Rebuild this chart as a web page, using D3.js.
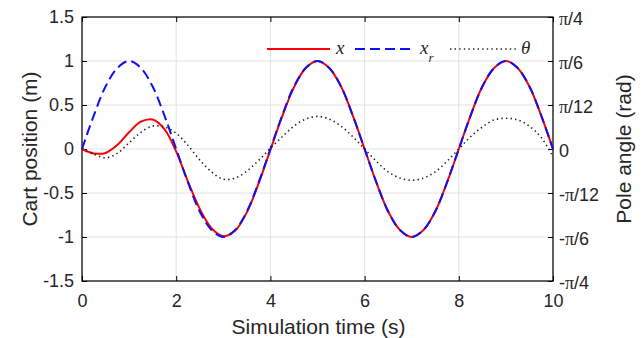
<!DOCTYPE html>
<html>
<head>
<meta charset="utf-8">
<script src="https://cdn.jsdelivr.net/npm/d3@7"></script>
<style>
  body { margin: 0; background: #fff; }
  svg { display: block; }
  text { font-family: Arial, "Liberation Sans", sans-serif; fill: #262626; }
</style>
</head>
<body>
<svg id="chart" width="644" height="338"></svg>
<script>
// sample times (s)
const time = [0, 0.25, 0.5, 0.75, 1, 1.25, 1.5, 1.75, 2, 2.25, 2.5, 2.75, 3, 3.25, 3.5, 3.75, 4,
  4.25, 4.5, 4.75, 5, 5.25, 5.5, 5.75, 6, 6.25, 6.5, 6.75, 7, 7.25, 7.5, 7.75, 8,
  8.25, 8.5, 8.75, 9, 9.25, 9.5, 9.75, 10];

// cart position x (m)
const cartX = [0, -0.05, -0.045, 0.045, 0.19, 0.31, 0.335, 0.225, -0.03, -0.37, -0.68, -0.9, -0.99, -0.93, -0.72, -0.39, -0.01,
  0.37, 0.7, 0.92, 1, 0.92, 0.71, 0.38, 0, -0.38, -0.71, -0.92, -1, -0.92, -0.71, -0.38, 0,
  0.38, 0.71, 0.92, 1, 0.92, 0.71, 0.38, 0];

// reference position x_r (m)
const refX = [0, 0.38, 0.71, 0.92, 1, 0.92, 0.71, 0.38, 0, -0.38, -0.71, -0.92, -1, -0.92, -0.71, -0.38, 0,
  0.38, 0.71, 0.92, 1, 0.92, 0.71, 0.38, 0, -0.38, -0.71, -0.92, -1, -0.92, -0.71, -0.38, 0,
  0.38, 0.71, 0.92, 1, 0.92, 0.71, 0.38, 0];

// pole angle theta (rad)
const theta = [0, -0.031, -0.052, -0.026, 0.037, 0.099, 0.136, 0.131, 0.094, 0.021, -0.065, -0.136, -0.18, -0.173, -0.131, -0.068, 0.005,
  0.073, 0.136, 0.178, 0.194, 0.178, 0.136, 0.073, 0, -0.073, -0.136, -0.173, -0.186, -0.173, -0.136, -0.073, 0,
  0.073, 0.131, 0.173, 0.183, 0.173, 0.136, 0.068, -0.045];

const xTicks = [0, 2, 4, 6, 8, 10];
const yTicks = [-1.5, -1, -0.5, 0, 0.5, 1, 1.5];
const angleTicks = [-3, -2, -1, 0, 1, 2, 3];           // multiples of pi/12
const angleLabels = ["-π/4", "-π/6", "-π/12", "0", "π/12", "π/6", "π/4"];

const mLeft = 82, mRight = 553, mTop = 17, mBottom = 281;
const svg = d3.select("#chart");

const x = d3.scaleLinear().domain([0, 10]).range([mLeft, mRight]);
const y = d3.scaleLinear().domain([-1.5, 1.5]).range([mBottom, mTop]);
const yR = d3.scaleLinear().domain([-Math.PI / 4, Math.PI / 4]).range([mBottom, mTop]);

// grid
svg.append("g").selectAll("line").data(xTicks).enter().append("line")
  .attr("x1", d => x(d)).attr("x2", d => x(d)).attr("y1", mTop).attr("y2", mBottom)
  .attr("stroke", "#e2e2e2").attr("stroke-width", 1);
svg.append("g").selectAll("line").data(yTicks).enter().append("line")
  .attr("x1", mLeft).attr("x2", mRight).attr("y1", d => y(d)).attr("y2", d => y(d))
  .attr("stroke", "#e2e2e2").attr("stroke-width", 1);

// axes (ticks pointing inward)
const gx = svg.append("g").attr("transform", `translate(0,${mBottom})`)
  .call(d3.axisBottom(x).tickValues(xTicks).tickSizeInner(-5).tickSizeOuter(0).tickPadding(13).tickFormat(d3.format("d")));
const gxTop = svg.append("g").attr("transform", `translate(0,${mTop})`)
  .call(d3.axisTop(x).tickValues(xTicks).tickSizeInner(-5).tickSizeOuter(0).tickFormat(""));
const gy = svg.append("g").attr("transform", `translate(${mLeft},0)`)
  .call(d3.axisLeft(y).tickValues(yTicks).tickSizeInner(-5).tickSizeOuter(0).tickPadding(8).tickFormat(d => String(d)));
const gyR = svg.append("g").attr("transform", `translate(${mRight},0)`)
  .call(d3.axisRight(yR).tickValues(angleTicks.map(k => k * Math.PI / 12)).tickSizeInner(-5).tickSizeOuter(0).tickPadding(8).tickFormat(""));

[gx, gxTop, gy, gyR].forEach(g => {
  g.select(".domain").remove();
  g.selectAll(".tick line").attr("stroke", "#000");
  g.selectAll("text").style("font-size", "18px").attr("fill", "#262626");
});

// right axis labels with serif pi
gyR.selectAll(".tick").each(function (d, i) {
  const t = d3.select(this).select("text").attr("x", 6).attr("dy", "0.4em").text(null);
  const lab = angleLabels[i];
  const parts = lab.split("π");
  if (parts.length === 1) { t.append("tspan").text(lab); return; }
  if (parts[0]) t.append("tspan").text(parts[0]);
  t.append("tspan").style("font-family", "'Liberation Serif', 'Times New Roman', serif").text("π");
  t.append("tspan").text(parts[1]);
});

// box
svg.append("rect").attr("x", mLeft).attr("y", mTop).attr("width", mRight - mLeft).attr("height", mBottom - mTop)
  .attr("fill", "none").attr("stroke", "#000").attr("stroke-width", 1.2);

// lines
const lineL = vals => d3.line().x((d, i) => x(time[i])).y(d => y(d)).curve(d3.curveCatmullRom)(vals);
const lineR = vals => d3.line().x((d, i) => x(time[i])).y(d => yR(d)).curve(d3.curveCatmullRom)(vals);

const plot = svg.append("g");
plot.append("path").attr("d", lineL(cartX)).attr("fill", "none").attr("stroke", "#ff0000").attr("stroke-width", 2);
plot.append("path").attr("d", lineL(refX)).attr("fill", "none").attr("stroke", "#1010f0").attr("stroke-width", 2)
  .attr("stroke-dasharray", "10,5");
plot.append("path").attr("d", lineR(theta)).attr("fill", "none").attr("stroke", "#222").attr("stroke-width", 1.6)
  .attr("stroke-dasharray", "1.4,3.2");

// legend
const leg = svg.append("g");
const serif = "'Liberation Serif', 'Times New Roman', serif";
const ly = 49;
leg.append("line").attr("x1", 267).attr("x2", 330).attr("y1", ly).attr("y2", ly).attr("stroke", "#ff0000").attr("stroke-width", 2);
leg.append("text").attr("x", 336).attr("y", ly + 5).style("font-family", serif).style("font-style", "italic").style("font-size", "19px").attr("fill", "#000").text("x");
leg.append("line").attr("x1", 355).attr("x2", 410).attr("y1", ly).attr("y2", ly).attr("stroke", "#1010f0").attr("stroke-width", 2).attr("stroke-dasharray", "10,5");
const xr = leg.append("text").attr("x", 420).attr("y", ly + 5).style("font-family", serif).style("font-style", "italic").style("font-size", "19px").attr("fill", "#000");
xr.append("tspan").text("x");
xr.append("tspan").attr("dy", 8).style("font-size", "13px").text("r");
leg.append("line").attr("x1", 450).attr("x2", 518).attr("y1", ly).attr("y2", ly).attr("stroke", "#222").attr("stroke-width", 1.6).attr("stroke-dasharray", "1.4,3.2");
leg.append("text").attr("x", 521).attr("y", ly + 5).style("font-family", serif).style("font-style", "italic").style("font-size", "19px").attr("fill", "#000").text("θ");

// axis titles
svg.append("text").attr("x", (mLeft + mRight) / 2 + 1).attr("y", 334).attr("text-anchor", "middle").style("font-size", "21px").text("Simulation time (s)");
svg.append("text").attr("transform", `translate(37,${(mTop + mBottom) / 2}) rotate(-90)`).attr("text-anchor", "middle").style("font-size", "21px").text("Cart position (m)");
svg.append("text").attr("transform", `translate(631,${(mTop + mBottom) / 2}) rotate(-90)`).attr("text-anchor", "middle").style("font-size", "21px").text("Pole angle (rad)");
</script>
</body>
</html>
